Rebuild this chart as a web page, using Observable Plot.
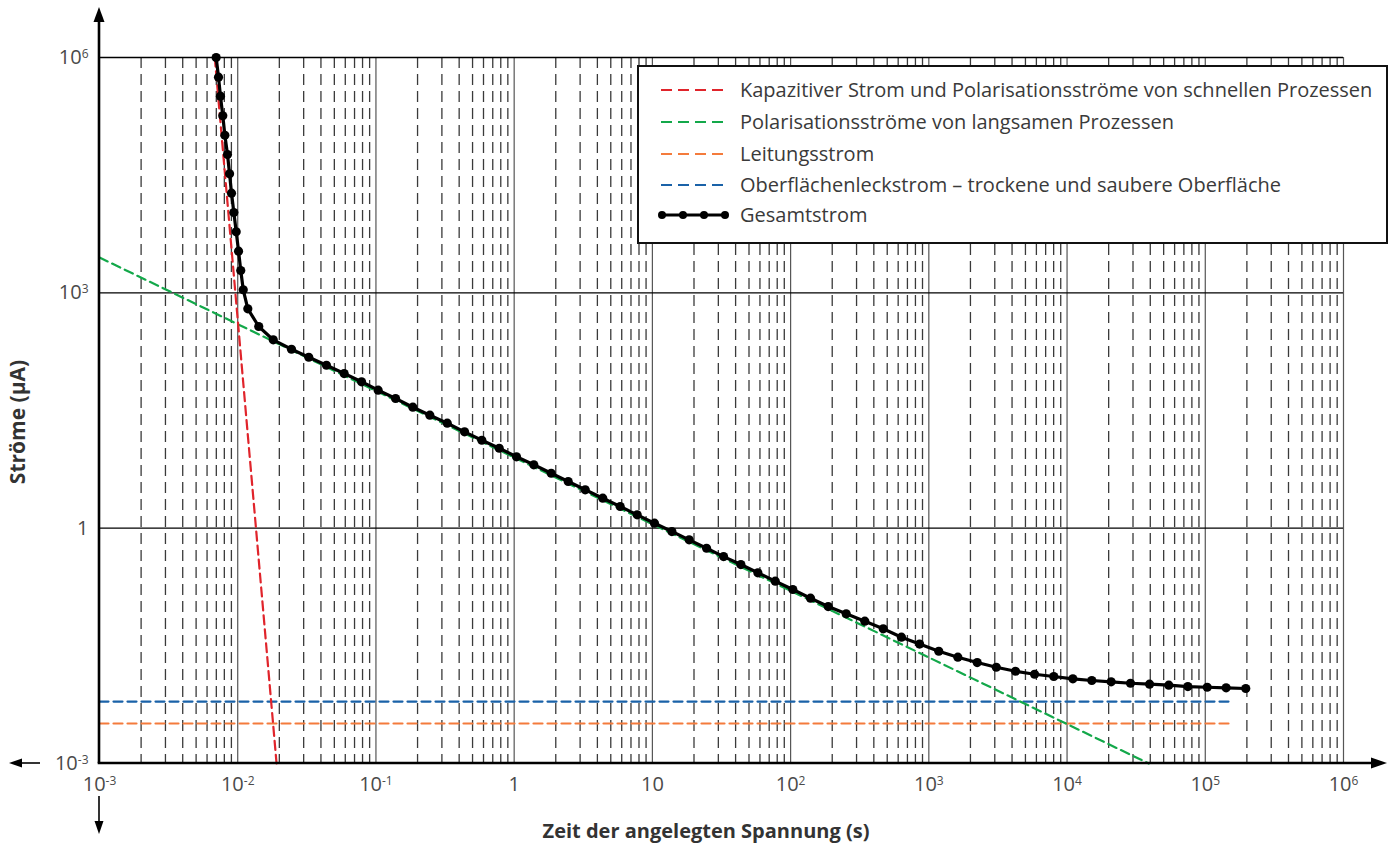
<!DOCTYPE html>
<html>
<head>
<meta charset="utf-8">
<script src="https://cdn.jsdelivr.net/npm/d3@7"></script>
<script src="https://cdn.jsdelivr.net/npm/@observablehq/plot@0.6"></script>
<style>
  html, body { margin: 0; padding: 0; background: #fff; }
  #chart { position: relative; width: 1395px; height: 844px; }
</style>
</head>
<body>
<div id="chart"></div>
<script>
// ---------- data (log10 exponents) ----------
const xTickExps = [-3, -2, -1, 0, 1, 2, 3, 4, 5, 6];
const yTickExps = [-3, 0, 3, 6];
const yGridExps = [0, 3, 6];

// Gesamtstrom (total current): log10(time s), log10(current µA)
const totalLogT = [-2.156,-2.139,-2.125,-2.108,-2.093,-2.074,-2.059,-2.045,-2.028,-2.011,
  -1.994,-1.978,-1.960,-1.927,-1.848,-1.743,-1.611,-1.486,-1.358,-1.230,
  -1.104,-0.984,-0.858,-0.733,-0.610,-0.484,-0.359,-0.234,-0.108,0.017,
  0.142,0.268,0.391,0.514,0.641,0.767,0.890,1.015,1.141,1.266,
  1.392,1.515,1.640,1.763,1.889,2.016,2.144,2.272,2.402,2.537,
  2.670,2.802,2.933,3.072,3.210,3.350,3.488,3.627,3.765,3.904,
  4.042,4.179,4.319,4.459,4.597,4.736,4.874,5.014,5.151,5.293];
const totalLogI = [6.000,5.749,5.507,5.257,5.009,4.763,4.517,4.270,4.024,3.778,
  3.531,3.285,3.039,2.796,2.571,2.401,2.281,2.179,2.077,1.971,
  1.866,1.759,1.653,1.542,1.440,1.338,1.228,1.121,1.019,0.910,
  0.808,0.700,0.595,0.489,0.382,0.276,0.170,0.063,-0.043,-0.149,
  -0.256,-0.362,-0.464,-0.569,-0.676,-0.782,-0.893,-0.999,-1.092,-1.186,
  -1.283,-1.390,-1.477,-1.569,-1.645,-1.713,-1.773,-1.824,-1.862,-1.891,
  -1.921,-1.942,-1.959,-1.977,-1.989,-2.002,-2.019,-2.028,-2.035,-2.044];

// component currents (straight lines in log-log): endpoints
const capLogT  = [-2.166, -1.719];  const capLogI  = [6.0, -3.0];   // Kapazitiver Strom
const polLogT  = [-3.0, 4.591];     const polLogI  = [3.45, -3.0];  // langsame Polarisation
const leitLogT = [-3.0, 5.168];     const leitLogI = [-2.49, -2.49]; // Leitungsstrom
const oberLogT = [-3.0, 5.168];     const oberLogI = [-2.21, -2.21]; // Oberflächenleckstrom

const legendLabels = [
  "Kapazitiver Strom und Polarisationsströme von schnellen Prozessen",
  "Polarisationsströme von langsamen Prozessen",
  "Leitungsstrom",
  "Oberflächenleckstrom – trockene und saubere Oberfläche",
  "Gesamtstrom"
];
const legendColors = ["#e0242b", "#13a84a", "#f47b3c", "#1a62a8", "#000000"];

const xTitle = "Zeit der angelegten Spannung (s)";
const yTitle = "Ströme (µA)";

// ---------- build ----------
const pts = (lt, li) => lt.map((t, i) => ({t: 10 ** t, i: 10 ** li[i]}));
const total = pts(totalLogT, totalLogI);
const cap = pts(capLogT, capLogI);
const pol = pts(polLogT, polLogI);
const leit = pts(leitLogT, leitLogI);
const ober = pts(oberLogT, oberLogI);

const majorX = xTickExps.slice(1).map(e => 10 ** e);
const minorX = [];
xTickExps.slice(0, -1).forEach(e => { for (let k = 2; k <= 9; k++) minorX.push(k * 10 ** e); });

const fmt = v => {
  const e = Math.round(Math.log10(v));
  if (e === 0) return "1";
  if (e === 1) return "10";
  return "10|" + (e < 0 ? "-" + (-e) : e);
};

const FONT = "'Open Sans', sans-serif";
const dash = "9,5";
const plot = Plot.plot({
  width: 1395, height: 844,
  marginLeft: 99, marginRight: 52, marginTop: 57, marginBottom: 81,
  style: {fontFamily: FONT, fontSize: "20px", color: "#4a4a4a", background: "#fff"},
  x: {type: "log", domain: [1e-3, 1e6], label: null},
  y: {type: "log", domain: [1e-3, 1e6], label: null},
  marks: [
    Plot.ruleX(minorX, {stroke: "#3a3a3a", strokeWidth: 1.3, strokeDasharray: "11,6"}),
    Plot.ruleX(majorX, {stroke: "#555", strokeWidth: 1.2}),
    Plot.ruleY(yGridExps.map(e => 10 ** e), {stroke: "#000", strokeWidth: 1.3}),
    Plot.line(leit, {x: "t", y: "i", stroke: legendColors[2], strokeWidth: 2.2, strokeDasharray: dash}),
    Plot.line(ober, {x: "t", y: "i", stroke: legendColors[3], strokeWidth: 2.2, strokeDasharray: dash}),
    Plot.line(pol, {x: "t", y: "i", stroke: legendColors[1], strokeWidth: 2.2, strokeDasharray: dash}),
    Plot.line(cap, {x: "t", y: "i", stroke: legendColors[0], strokeWidth: 2.2, strokeDasharray: dash}),
    Plot.line(total, {x: "t", y: "i", stroke: "#000", strokeWidth: 3.2}),
    Plot.dot(total, {x: "t", y: "i", fill: "#000", r: 4.6}),
    Plot.axisX({ticks: xTickExps.map(e => 10 ** e), tickFormat: fmt, tickSize: 0, tickPadding: 13, label: null}),
    Plot.axisY({ticks: yTickExps.map(e => 10 ** e), tickFormat: fmt, tickSize: 0, tickPadding: 11, label: null})
  ]
});
document.getElementById("chart").appendChild(plot);

const svg = d3.select(plot);
// superscripts in tick labels
svg.selectAll("text").each(function () {
  const t = this.textContent;
  if (t.includes("|")) {
    const [base, sup] = t.split("|");
    const el = d3.select(this);
    el.text(base);
    el.append("tspan").attr("dy", "-0.5em").attr("font-size", "0.6em").text(sup);
  }
});

const sx = plot.scale("x"), sy = plot.scale("y");
const x0 = sx.apply(1e-3), y0 = sy.apply(1e-3);
const g = svg.append("g");
// axes with arrows
g.append("line").attr("x1", x0).attr("y1", y0).attr("x2", x0).attr("y2", 20).attr("stroke", "#000").attr("stroke-width", 2.6);
g.append("path").attr("d", `M${x0},7 L${x0 - 5.5},22 L${x0 + 5.5},22 Z`).attr("fill", "#000");
g.append("line").attr("x1", x0 - 1.3).attr("y1", y0).attr("x2", 1372).attr("y2", y0).attr("stroke", "#000").attr("stroke-width", 2.6);
g.append("path").attr("d", `M1387,${y0} L1371,${y0 - 5.5} L1371,${y0 + 5.5} Z`).attr("fill", "#000");
g.append("line").attr("x1", 20).attr("y1", y0).attr("x2", 40).attr("y2", y0).attr("stroke", "#000").attr("stroke-width", 1.6);
g.append("path").attr("d", `M9,${y0} L22,${y0 - 4.5} L22,${y0 + 4.5} Z`).attr("fill", "#000");
g.append("line").attr("x1", x0).attr("y1", 796).attr("x2", x0).attr("y2", 822).attr("stroke", "#000").attr("stroke-width", 1.6);
g.append("path").attr("d", `M${x0},834 L${x0 - 4.5},821 L${x0 + 4.5},821 Z`).attr("fill", "#000");

// axis titles
g.append("text").attr("x", 706).attr("y", 838).attr("text-anchor", "middle")
  .attr("font-family", FONT).attr("font-weight", 700).attr("font-size", 20).attr("fill", "#333").text(xTitle);
g.append("text").attr("transform", "translate(25,422) rotate(-90)").attr("text-anchor", "middle")
  .attr("font-family", FONT).attr("font-weight", 700).attr("font-size", 21).attr("fill", "#333").text(yTitle);

// legend
const lg = svg.append("g").attr("text-anchor", "start");
lg.append("rect").attr("x", 638).attr("y", 66).attr("width", 749).attr("height", 177)
  .attr("fill", "#fff").attr("stroke", "#111").attr("stroke-width", 2);
const rowY = [90, 122, 154, 185, 215];
legendLabels.forEach((lab, i) => {
  const yy = rowY[i];
  if (i < 4) {
    lg.append("line").attr("x1", 661).attr("x2", 726).attr("y1", yy).attr("y2", yy)
      .attr("stroke", legendColors[i]).attr("stroke-width", 2.2).attr("stroke-dasharray", "11,6");
  } else {
    lg.append("line").attr("x1", 662).attr("x2", 725).attr("y1", yy).attr("y2", yy).attr("stroke", "#000").attr("stroke-width", 3);
    [662, 683, 704, 725].forEach(cx => lg.append("circle").attr("cx", cx).attr("cy", yy).attr("r", 4).attr("fill", "#000"));
  }
  lg.append("text").attr("x", 740).attr("y", yy).attr("dy", "0.35em").attr("text-anchor", "start")
    .attr("font-family", FONT).attr("font-size", 20).attr("fill", "#3a3a3a").text(lab);
});
</script>
</body>
</html>
